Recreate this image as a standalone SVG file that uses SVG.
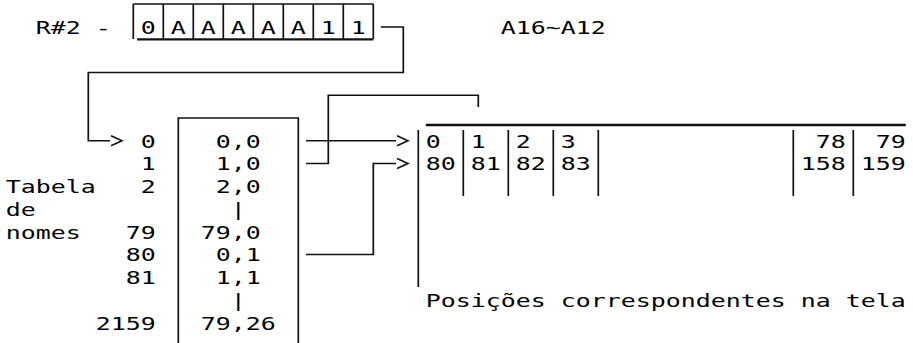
<svg xmlns="http://www.w3.org/2000/svg" width="913" height="343" viewBox="0 0 913 343">
<style>
text{font-family:"DejaVu Sans Mono","Liberation Mono",monospace;font-size:18.5px;fill:#000}
.ln{fill:none;stroke:#111;stroke-width:1.7}
.ul{fill:none;stroke:#111;stroke-width:2.3}
</style>
<defs>
<marker id="arr" markerUnits="userSpaceOnUse" markerWidth="16" markerHeight="14" refX="0" refY="6" orient="auto" overflow="visible">
<path d="M1,1 L12,6 L1,11" fill="none" stroke="#111" stroke-width="1.6"/>
</marker>
</defs>
<rect width="913" height="343" fill="#fff"/>

<g id="register">
<path class="ln" d="M133.3,4 H373.3 M133.3,4 V39 M163.3,4 V39 M193.3,4 V39 M223.3,4 V39 M253.3,4 V39 M283.3,4 V39 M313.3,4 V39 M343.3,4 V39 M373.3,4 V39"/>
<path class="ul" d="M137,39.3 H373.3"/>
<g transform="scale(1.3468,1)">
<text x="26.582" y="34">R#2</text>
<text x="71.131" y="34">-</text>
<text x="104.544" y="34">0</text>
<text x="126.819" y="34">A</text>
<text x="149.094" y="34">A</text>
<text x="171.369" y="34">A</text>
<text x="193.644" y="34">A</text>
<text x="215.919" y="34">A</text>
<text x="238.194" y="34">1</text>
<text x="260.469" y="34">1</text>
<text x="371.845" y="34">A16~A12</text>
</g>
</g>

<g id="name-table">
<path class="ln" d="M178.3,343 V118 H298.3 V343"/>
<g transform="scale(1.3468,1)">
<text x="4.307" y="193.25">Tabela</text>
<text x="4.307" y="216">de</text>
<text x="4.307" y="238.75">nomes</text>
<text x="104.544" y="147.75">0</text>
<text x="104.544" y="170.5">1</text>
<text x="104.544" y="193.25">2</text>
<text x="93.407" y="238.75">79</text>
<text x="93.407" y="261.5">80</text>
<text x="93.407" y="284.25">81</text>
<text x="71.131" y="329.75">2159</text>
<text x="160.232" y="147.75">0,0</text>
<text x="160.232" y="170.5">1,0</text>
<text x="160.232" y="193.25">2,0</text>
<text x="171.369" y="216">|</text>
<text x="149.094" y="238.75">79,0</text>
<text x="160.232" y="261.5">0,1</text>
<text x="160.232" y="284.25">1,1</text>
<text x="171.369" y="307">|</text>
<text x="149.094" y="329.75">79,26</text>
</g>
</g>

<g id="screen">
<path class="ul" d="M425.8,125 H905.8"/>
<path class="ln" d="M418.3,130 V287 M463.3,130 V196 M508.3,130 V196 M553.3,130 V196 M598.3,130 V196 M793.3,130 V196 M853.3,130 V196"/>
<g transform="scale(1.3468,1)">
<text x="316.157" y="147.75">0</text>
<text x="349.569" y="147.75">1</text>
<text x="382.982" y="147.75">2</text>
<text x="416.394" y="147.75">3</text>
<text x="605.732" y="147.75">78</text>
<text x="650.282" y="147.75">79</text>
<text x="316.157" y="170.5">80</text>
<text x="349.569" y="170.5">81</text>
<text x="382.982" y="170.5">82</text>
<text x="416.394" y="170.5">83</text>
<text x="594.595" y="170.5">158</text>
<text x="639.145" y="170.5">159</text>
<text x="316.157" y="307">Posições correspondentes na tela</text>
</g>
</g>

<g id="connectors">
<path class="ln" marker-end="url(#arr)" d="M380.8,27 H403.3 V72.5 H88.3 V140.75 H110"/>
<path class="ln" marker-end="url(#arr)" d="M306,140.75 H396"/>
<path class="ln" d="M306,163.5 H328.3 V95.25 H478.3 V107"/>
<path class="ln" marker-end="url(#arr)" d="M306,254.5 H373.3 V163.5 H396"/>
</g>
</svg>
